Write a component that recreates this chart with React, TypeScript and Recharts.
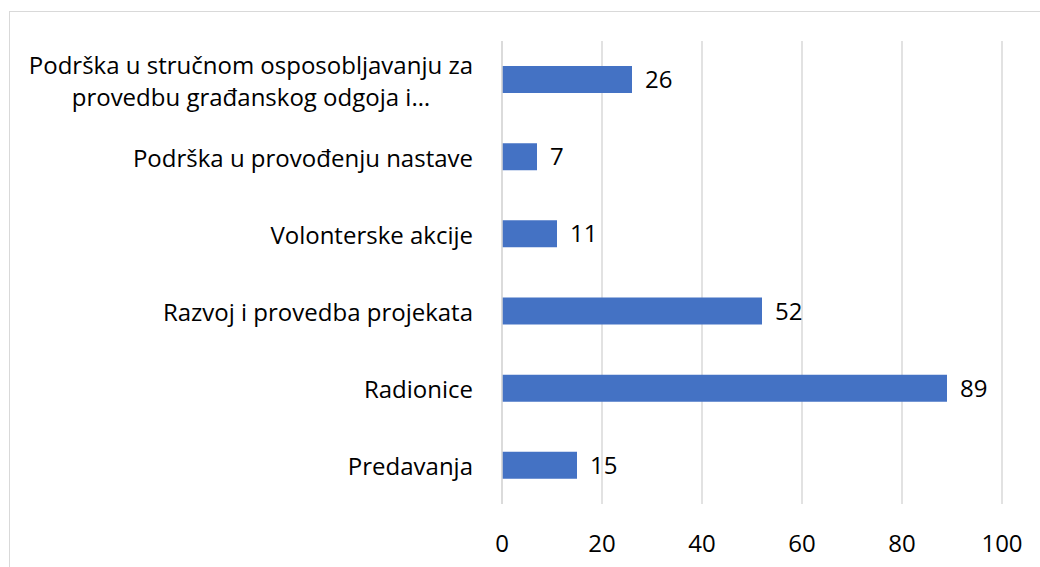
import { BarChart, Bar, XAxis, YAxis, CartesianGrid, LabelList } from "recharts";

const categories = [
  "Podrška u stručnom osposobljavanju za provedbu građanskog odgoja i…",
  "Podrška u provođenju nastave",
  "Volonterske akcije",
  "Razvoj i provedba projekata",
  "Radionice",
  "Predavanja",
];
const values = [26, 7, 11, 52, 89, 15];
const xTicks = [0, 20, 40, 60, 80, 100];

const data = categories.map((name, i) => ({ name, value: values[i] }));

const FONT = "'Open Sans', sans-serif";
const FONT_SIZE = 24;

function wrap(label: string, maxChars: number): string[] {
  const words = label.split(" ");
  const lines: string[] = [];
  let cur = "";
  for (const w of words) {
    const next = cur ? cur + " " + w : w;
    if (next.length > maxChars && cur) {
      lines.push(cur);
      cur = w;
    } else {
      cur = next;
    }
  }
  if (cur) lines.push(cur);
  return lines;
}

let ctx: CanvasRenderingContext2D | null = null;
function textWidth(s: string): number {
  if (!ctx) ctx = document.createElement("canvas").getContext("2d");
  if (!ctx) return s.length * FONT_SIZE * 0.5;
  ctx.font = `${FONT_SIZE}px ${FONT}`;
  return ctx.measureText(s).width;
}

// wrapped lines are centred within a right-aligned block, as in Excel
function CategoryTick(props: any) {
  const { x, y, payload } = props;
  const lines = wrap(payload.value, 38);
  const lineHeight = 32;
  const startY = y - ((lines.length - 1) * lineHeight) / 2;
  const blockW = Math.max(...lines.map(textWidth));
  const cx = lines.length > 1 ? x - blockW / 2 : x;
  const anchor = lines.length > 1 ? "middle" : "end";
  return (
    <text
      x={cx}
      y={startY}
      textAnchor={anchor}
      fill="#000"
      fontFamily={FONT}
      fontSize={FONT_SIZE}
      dominantBaseline="central"
    >
      {lines.map((l, i) => (
        <tspan key={i} x={cx} y={startY + i * lineHeight} dominantBaseline="central">
          {l}
        </tspan>
      ))}
    </text>
  );
}

export default function App() {
  return (
    <div
      style={{
        position: "absolute",
        left: 0,
        top: 0,
        width: 1040,
        height: 567,
        overflow: "hidden",
        background: "#fff",
      }}
    >
      <div
        style={{
          position: "absolute",
          left: 9,
          top: 11,
          width: 1100,
          height: 600,
          border: "1.5px solid #d9d9d9",
        }}
      />
      <div style={{ position: "absolute", left: 0, top: 0 }}>
        <BarChart
          width={1040}
          height={567}
          data={data}
          layout="vertical"
          margin={{ top: 41, right: 38, bottom: 23, left: 0 }}
          barCategoryGap={0}
        >
          <CartesianGrid horizontal={false} stroke="#d9d9d9" strokeWidth={1.5} />
          <XAxis
            type="number"
            domain={[0, 100]}
            ticks={xTicks}
            axisLine={false}
            tickLine={false}
            height={40}
            tickMargin={25}
            tick={{ fill: "#000", fontFamily: FONT, fontSize: FONT_SIZE }}
          />
          <YAxis
            type="category"
            dataKey="name"
            width={502}
            axisLine={{ stroke: "#d9d9d9", strokeWidth: 1.5 }}
            tickLine={false}
            tickMargin={23}
            interval={0}
            tick={<CategoryTick />}
          />
          <Bar dataKey="value" fill="#4472C4" barSize={27} isAnimationActive={false}>
            <LabelList
              dataKey="value"
              position="right"
              offset={13}
              fill="#000"
              fontFamily={FONT}
              fontSize={FONT_SIZE}
            />
          </Bar>
        </BarChart>
      </div>
    </div>
  );
}
